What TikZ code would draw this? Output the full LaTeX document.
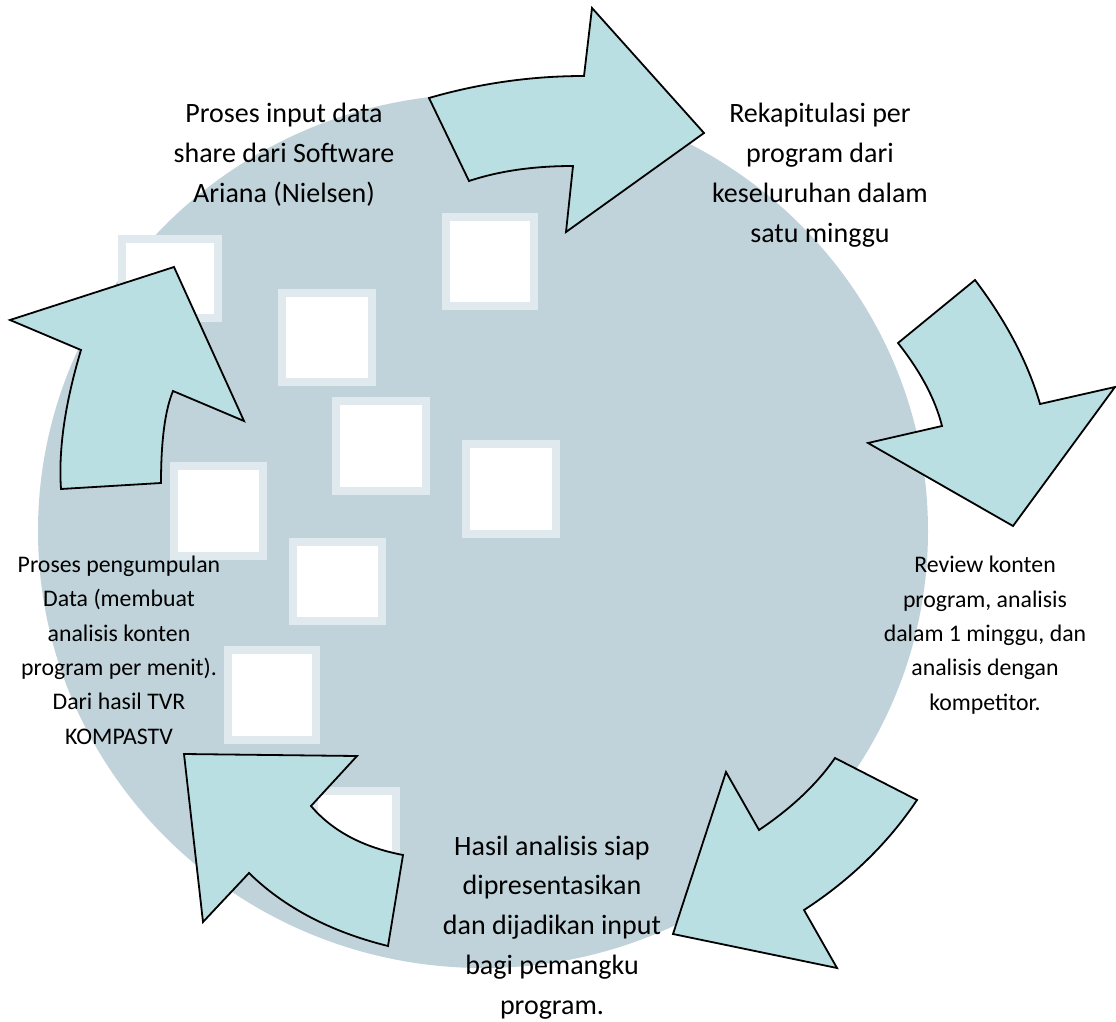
\documentclass[tikz,border=0pt]{standalone}
\usepackage{fontspec}
\setmainfont{Carlito}
\definecolor{blob}{RGB}{193,211,218}
\definecolor{halo}{RGB}{224,234,238}
\definecolor{arrowfill}{RGB}{186,223,226}
\newcommand{\wsq}[4]{\fill[halo] (#1,#2) rectangle (#3,#4);
  \fill[white] ($(#1,#2)+(8,8)$) rectangle ($(#3,#4)+(-8,-8)$);}
\usetikzlibrary{calc}
\begin{document}
\begin{tikzpicture}[x=1pt,y=-1pt,
  cyclearrow/.style={fill=arrowfill,draw=black,line width=1.8pt,line join=miter},
  bigtxt/.style={align=center,inner sep=0pt,anchor=base,font=\fontsize{28}{39.7}\selectfont},
  smalltxt/.style={align=center,inner sep=0pt,anchor=base,font=\fontsize{23.8}{34.3}\selectfont}]
\useasboundingbox (0,0) rectangle (1116,1022);
\fill[white] (0,0) rectangle (1116,1022);
% background watermark
\fill[blob] (483,531) ellipse [x radius=445pt, y radius=437pt];
\wsq{118}{235}{222}{322}
\wsq{442}{213}{538}{310}
\wsq{278}{289}{376}{386}
\wsq{332}{397}{430}{495}
\wsq{462}{440}{560}{538}
\wsq{170}{462}{267}{560}
\wsq{289}{538}{386}{625}
\wsq{224}{646}{320}{744}
\wsq{310}{787}{400}{880}
% arrows
\draw[cyclearrow] (429,98) .. controls (479.7,83.3) and (531.3,76) .. (584,76)
  -- (592,8) -- (704,133) -- (566,232) -- (573,166)
  .. controls (533.7,166) and (499,171) .. (469,181) -- cycle;
\draw[cyclearrow] (975,280) -- (898,343)
  .. controls (920.7,371.7) and (935.3,399.3) .. (942,426)
  -- (868,443) -- (1013,526) -- (1115,387) -- (1040,404)
  .. controls (1028,362.7) and (1006.3,321.3) .. (975,280) -- cycle;
\draw[cyclearrow] (917,800) -- (835,758)
  .. controls (817,784) and (791.7,808) .. (759,830)
  -- (726,772) -- (673,934) -- (837,968) -- (804,910)
  .. controls (850.3,880) and (888,843.3) .. (917,800) -- cycle;
\draw[cyclearrow] (184,754) -- (357,756) -- (311,806)
  .. controls (332.3,831) and (363,847.3) .. (403,855)
  -- (388,946)
  .. controls (330.3,931.7) and (284,907.3) .. (249,873)
  -- (203,922) -- cycle;
\draw[cyclearrow] (174,267) -- (10,320) -- (81,350)
  .. controls (65,403.3) and (58.3,449.7) .. (61,489)
  -- (161,483)
  .. controls (161,441) and (165,410.3) .. (173,391)
  -- (244,421) -- cycle;
% texts (anchor base = last line baseline)
\node[bigtxt] (t1) at (284,202) {Proses input data\\share dari Software\\Ariana (Nielsen)};
\node[bigtxt] (t2) at (820,242) {Rekapitulasi per\\program dari\\keseluruhan dalam\\satu minggu};
\node[smalltxt] (t3) at (985,710) {Review konten\\program, analisis\\dalam 1 minggu, dan\\analisis dengan\\kompetitor.};
\node[bigtxt] (t4) at (552,1014) {Hasil analisis siap\\dipresentasikan\\dan dijadikan input\\bagi pemangku\\program.};
\node[smalltxt] (t5) at (119,744) {Proses pengumpulan\\Data (membuat\\analisis konten\\program per menit).\\Dari hasil TVR\\KOMPASTV};
\end{tikzpicture}
\end{document}
